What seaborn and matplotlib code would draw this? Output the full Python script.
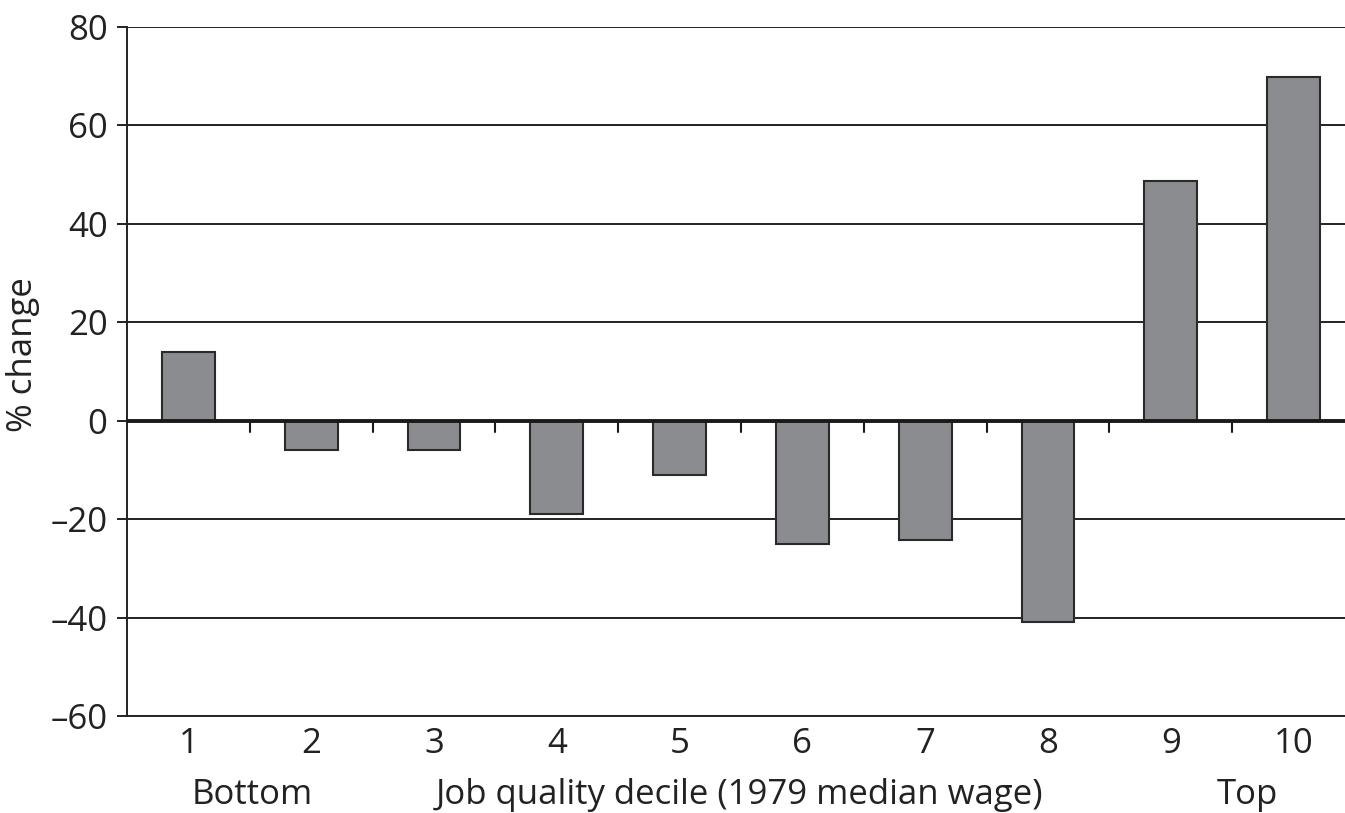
import pandas as pd
import matplotlib.pyplot as plt
import matplotlib.transforms as mtransforms
import seaborn as sns

deciles = ["1", "2", "3", "4", "5", "6", "7", "8", "9", "10"]
pct_change = [14, -5.9, -5.9, -19, -11, -25, -24.3, -41, 48.7, 69.8]
y_ticks = [-60, -40, -20, 0, 20, 40, 60, 80]
y_tick_labels = ["\u201360", "\u201340", "\u201320", "0", "20", "40", "60", "80"]

df = pd.DataFrame({"decile": deciles, "change": pct_change})

sns.set_theme(style="white")
plt.rcParams['font.family'] = ['Open Sans', 'DejaVu Sans']
FS = 25

fig = plt.figure(figsize=(13.45, 8.13), dpi=100)
# axes runs slightly past the right edge like the original
ax = fig.add_axes([127 / 1345, 1 - 716 / 813, 1228 / 1345, 689 / 813])

for y in y_ticks:
    if y != 0:
        ax.axhline(y, color="#222222", lw=1.4, zorder=0)

sns.barplot(data=df, x="decile", y="change", color="#8b8c90", width=0.43,
            edgecolor="#2a2a2a", linewidth=1.5, saturation=1, ax=ax, zorder=2)

ax.axhline(0, color="#1a1a1a", lw=2.8, zorder=3)
# small ticks below the zero line at category boundaries
for i in range(1, len(deciles)):
    ax.plot([i - 0.5, i - 0.5], [0, -2.2], color="#1a1a1a", lw=1.5, zorder=3)

ax.set_xlim(-0.5, len(deciles) - 0.5)
ax.set_ylim(-60, 80)
ax.set_yticks(y_ticks)
ax.set_yticklabels(y_tick_labels, fontsize=FS, color="#222222")
ax.tick_params(axis="y", direction="out", length=7, width=1.4, color="#222222",
               left=True, pad=7)
ax.tick_params(axis="x", length=0, labelsize=FS, labelcolor="#222222", pad=8)

for s in ["top", "right"]:
    ax.spines[s].set_visible(False)
for s in ["left", "bottom"]:
    ax.spines[s].set_color("#222222")
    ax.spines[s].set_linewidth(1.4)

ax.set_xlabel("")
ax.set_ylabel("% change", fontsize=FS, color="#222222")
ax.yaxis.set_label_coords(-0.071, 0.524)

trans = mtransforms.blended_transform_factory(ax.transData, ax.transAxes)
ax.text(0.52, -0.115, "Bottom", transform=trans, ha="center", va="center",
        fontsize=FS, color="#222222")
ax.text(4.49, -0.115, "Job quality decile (1979 median wage)", transform=trans,
        ha="center", va="center", fontsize=FS, color="#222222")
ax.text(8.62, -0.115, "Top", transform=trans, ha="center", va="center",
        fontsize=FS, color="#222222")

fig.savefig("out.png", dpi=100)
